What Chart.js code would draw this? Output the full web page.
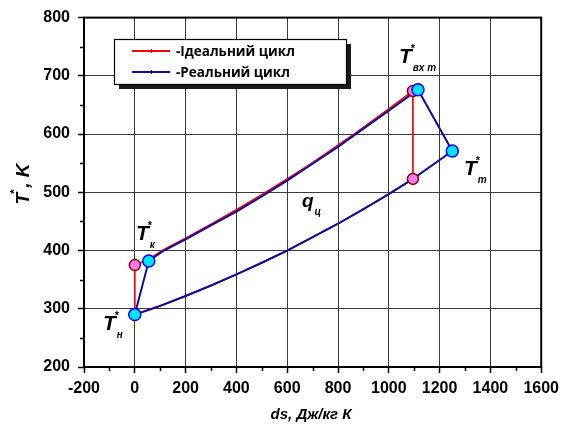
<!DOCTYPE html>
<html lang="uk">
<head>
<meta charset="UTF-8">
<title>T-s діаграма циклу</title>
<script src="https://cdn.jsdelivr.net/npm/chart.js"></script>
<style>
  body { margin: 0; background: #fff; }
</style>
</head>
<body>
<canvas id="cycleChart" width="565" height="426"></canvas>
<script>
// ідеальний цикл: ds (Дж/кг К) і T* (K), обхід по контуру
const idealS = [0, 0, 55, 115, 200, 300, 400, 500, 600, 700, 800, 870, 1000, 1095, 1095, 1000, 900, 800, 700, 600, 500, 400, 300, 200, 100, 0];
const idealT = [290, 375, 385, 402, 421, 445, 470, 496, 523, 551, 581, 602, 643, 674, 523, 497, 471, 446, 423, 400, 379, 359, 340, 322, 305, 290];

// реальний цикл
const realS = [0, 55, 115, 200, 300, 400, 500, 600, 700, 800, 870, 1000, 1115, 1250, 1095, 1000, 900, 800, 700, 600, 500, 400, 300, 200, 100, 0];
const realT = [290, 382, 400, 419, 443, 467, 493, 520, 549, 578, 600, 640, 676, 571, 523, 497, 471, 446, 423, 400, 379, 359, 340, 322, 305, 290];

// вузлові точки (маркери)
const idealNodeS = [0, 0, 1095, 1095];
const idealNodeT = [290, 375, 674, 523];
const realNodeS = [0, 55, 1115, 1250];
const realNodeT = [290, 382, 676, 571];

const seriesLabels = ['-Ідеальний цикл', '-Реальний цикл'];
const xTicks = [-200, 0, 200, 400, 600, 800, 1000, 1200, 1400, 1600];
const yTicks = [200, 300, 400, 500, 600, 700, 800];

const toPoints = (xs, ys) => xs.map((x, i) => ({ x: x, y: ys[i] }));

const RED = '#ff0000';
const BLUE = '#0c0c9e';
const GRID = '#3a3a3a';

// подписи точок, легенда, рамка, мінорні риски
const decor = {
    id: 'decor',
    afterDraw(chart) {
        const ctx = chart.ctx;
        const a = chart.chartArea;
        const xs = chart.scales.x, ys = chart.scales.y;
        ctx.save();

        // мінорні риски
        ctx.strokeStyle = '#000';
        ctx.lineWidth = 1.5;
        for (let v = -100; v < 1600; v += 200) {
            const px = Math.round(xs.getPixelForValue(v)) + 0.5;
            ctx.beginPath(); ctx.moveTo(px, a.bottom); ctx.lineTo(px, a.bottom + 4); ctx.stroke();
        }
        for (let v = 250; v < 800; v += 100) {
            const py = Math.round(ys.getPixelForValue(v)) + 0.5;
            ctx.beginPath(); ctx.moveTo(a.left, py); ctx.lineTo(a.left - 4, py); ctx.stroke();
        }

        // рамка
        ctx.lineWidth = 2;
        ctx.strokeRect(a.left, a.top, a.right - a.left, a.bottom - a.top);

        // легенда
        ctx.fillStyle = '#1a1a1a';
        ctx.fillRect(119, 44, 232, 45);
        ctx.fillStyle = '#fff';
        ctx.fillRect(114, 39, 232, 45);
        ctx.strokeStyle = '#000';
        ctx.lineWidth = 1.2;
        ctx.strokeRect(114.5, 39.5, 232, 45);
        const entries = [
            { label: chart.data.datasets[3].label, color: RED, y: 51 },
            { label: chart.data.datasets[2].label, color: BLUE, y: 72 }
        ];
        ctx.font = 'bold 13.5px "Open Sans"';
        ctx.textBaseline = 'middle';
        ctx.textAlign = 'left';
        entries.forEach(e => {
            ctx.strokeStyle = e.color;
            ctx.lineWidth = 2;
            ctx.beginPath(); ctx.moveTo(132, e.y); ctx.lineTo(170, e.y); ctx.stroke();
            ctx.lineWidth = 1;
            ctx.beginPath(); ctx.moveTo(151.5, e.y - 2); ctx.lineTo(151.5, e.y + 2); ctx.stroke();
            ctx.fillStyle = '#000';
            ctx.fillText(e.label, 176, e.y + 1);
        });

        // позначення станів
        const sym = (x, y, main, sub, size) => {
            ctx.textBaseline = 'alphabetic';
            ctx.fillStyle = '#000';
            ctx.font = 'italic bold ' + size + 'px "Liberation Sans"';
            ctx.fillText(main, x, y);
            const w = ctx.measureText(main).width;
            if (main === 'T') {
                ctx.font = 'bold 11px "Liberation Sans"';
                ctx.fillText('*', x + w - 1, y - 11);
            }
            ctx.font = 'italic bold 10px "Liberation Sans"';
            ctx.fillText(sub, x + w + 1, y + 8);
        };
        sym(399, 63, 'T', 'вх т', 21);
        sym(464, 175, 'T', 'т', 21);
        sym(136, 240, 'T', 'к', 21);
        sym(103, 330, 'T', 'н', 21);
        sym(302, 207, 'q', 'ц', 19);

        // назви осей
        ctx.font = 'italic bold 15px "Liberation Sans"';
        ctx.textAlign = 'center';
        ctx.textBaseline = 'middle';
        ctx.fillText('ds, Дж/кг К', 311, 415);

        ctx.translate(29, 184);
        ctx.rotate(-Math.PI / 2);
        ctx.textAlign = 'left';
        ctx.textBaseline = 'alphabetic';
        ctx.font = 'italic bold 19px "Liberation Sans"';
        const wT = ctx.measureText('T').width;
        const wK = ctx.measureText(', K').width;
        const x0 = -(wT + 5 + wK) / 2;
        ctx.fillText('T', x0, 0);
        ctx.font = 'bold 11px "Liberation Sans"';
        ctx.fillText('*', x0 + wT - 1, -11);
        ctx.font = 'italic bold 19px "Liberation Sans"';
        ctx.fillText(', K', x0 + wT + 5, 0);

        ctx.restore();
    }
};

const tickFont = { family: '"Liberation Sans"', size: 16, weight: 'bold' };

new Chart(document.getElementById('cycleChart').getContext('2d'), {
    type: 'scatter',
    data: {
        datasets: [{
            label: 'realNodes',
            data: toPoints(realNodeS, realNodeT),
            showLine: false,
            pointRadius: 6,
            pointBackgroundColor: '#00e5ff',
            pointBorderColor: '#0000ff',
            pointBorderWidth: 1.5
        }, {
            label: 'idealNodes',
            data: toPoints(idealNodeS, idealNodeT),
            showLine: false,
            pointRadius: 5.5,
            pointBackgroundColor: '#f07ef0',
            pointBorderColor: '#8b0000',
            pointBorderWidth: 1.5
        }, {
            label: seriesLabels[1],
            data: toPoints(realS, realT),
            showLine: true,
            borderColor: BLUE,
            borderWidth: 2,
            pointRadius: 0,
            tension: 0
        }, {
            label: seriesLabels[0],
            data: toPoints(idealS, idealT),
            showLine: true,
            borderColor: RED,
            borderWidth: 1.7,
            pointRadius: 0,
            tension: 0
        }]
    },
    options: {
        responsive: false,
        animation: false,
        devicePixelRatio: 1,
        layout: { padding: { top: 17, right: 22, left: 0, bottom: 0 } },
        plugins: { legend: { display: false }, tooltip: { enabled: false } },
        scales: {
            x: {
                type: 'linear',
                min: xTicks[0],
                max: xTicks[xTicks.length - 1],
                afterBuildTicks: s => { s.ticks = xTicks.map(v => ({ value: v })); },
                afterFit: s => { s.height = 59; },
                ticks: {
                    font: tickFont, color: '#000', padding: 6,
                    maxRotation: 0, autoSkip: false,
                    callback: v => String(v)
                },
                grid: { color: GRID, lineWidth: 1, tickLength: 6, tickColor: '#000', tickWidth: 1.5 },
                border: { display: false }
            },
            y: {
                type: 'linear',
                min: yTicks[0],
                max: yTicks[yTicks.length - 1],
                afterBuildTicks: s => { s.ticks = yTicks.map(v => ({ value: v })); },
                afterFit: s => { s.width = 84; },
                ticks: {
                    font: tickFont, color: '#000', padding: 8,
                    autoSkip: false,
                    callback: v => String(v)
                },
                grid: { color: GRID, lineWidth: 1, tickLength: 6, tickColor: '#000', tickWidth: 1.5 },
                border: { display: false }
            }
        }
    },
    plugins: [decor]
});
</script>
</body>
</html>
